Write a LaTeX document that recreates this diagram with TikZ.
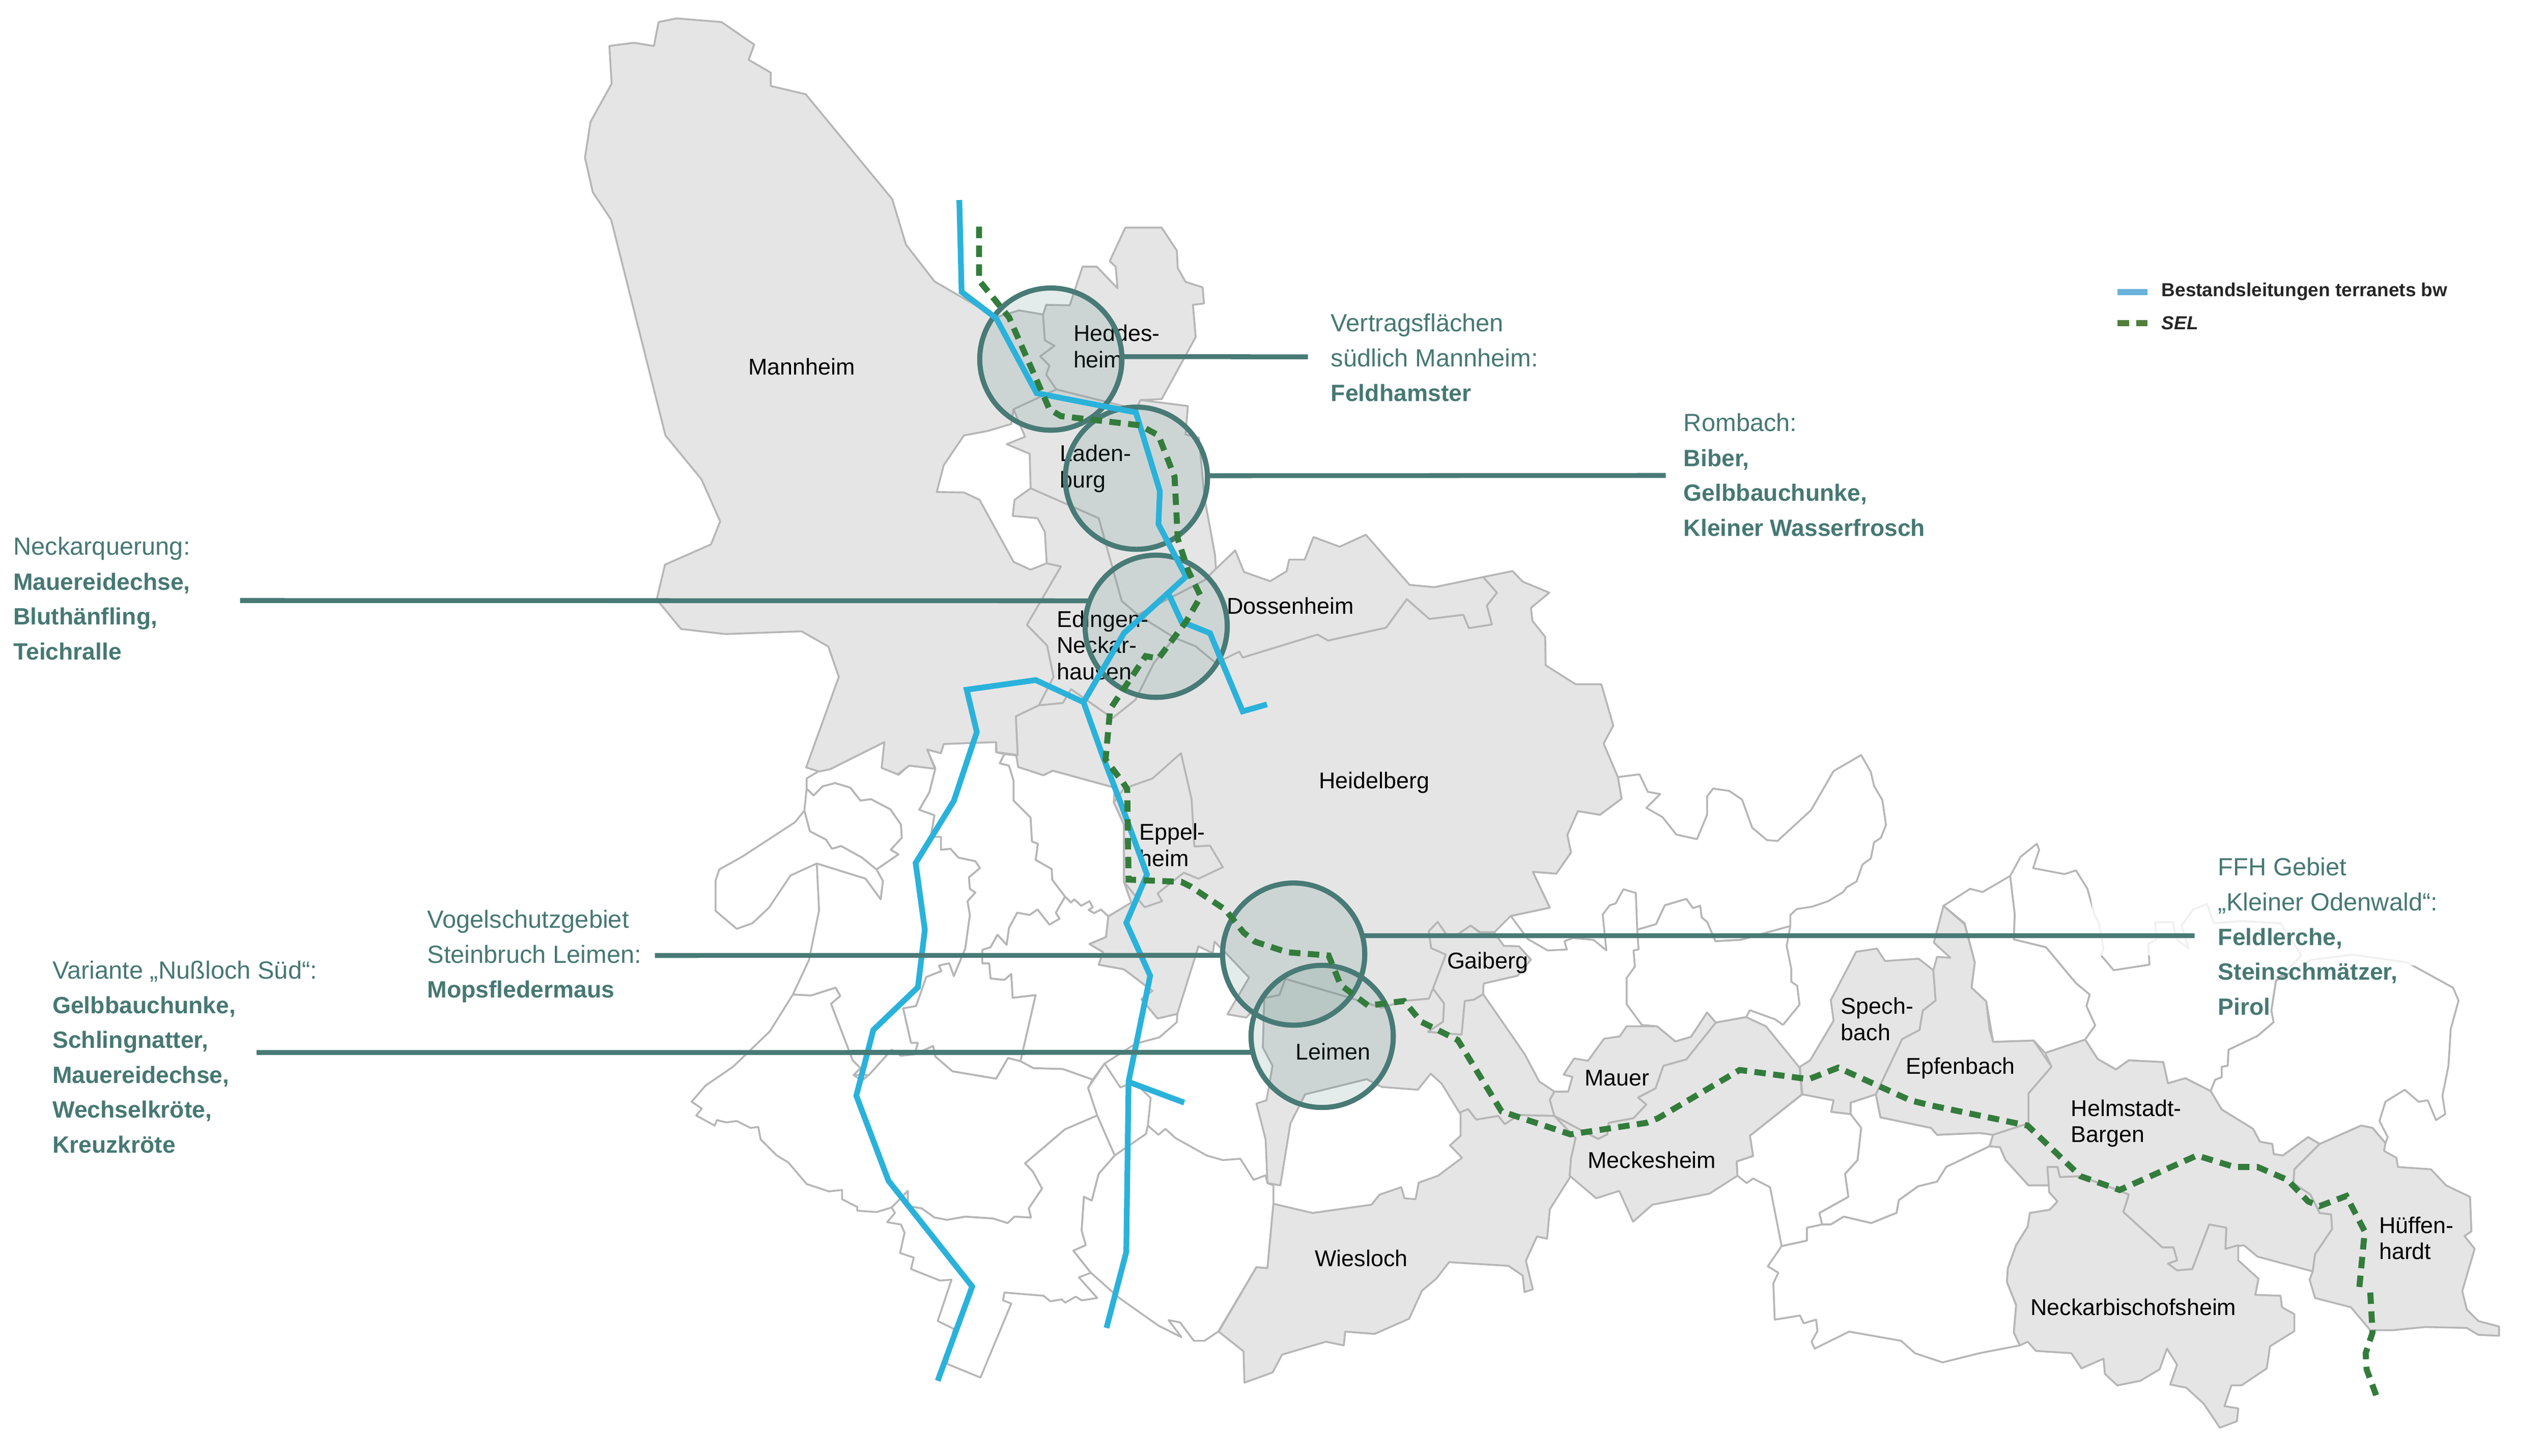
\documentclass[tikz,border=0pt]{standalone}
\usepackage{fontspec}
\setmainfont{Liberation Sans}
\definecolor{mapgray}{HTML}{E5E5E5}
\definecolor{mapline}{HTML}{B6B6B6}
\definecolor{ringteal}{HTML}{487A76}
\definecolor{tealtext}{HTML}{467873}
\definecolor{linieblue}{HTML}{2AB2DB}
\definecolor{seldark}{HTML}{337C3C}
\definecolor{legblue}{HTML}{6AB2D9}
\definecolor{leggreen}{HTML}{527E3C}
\newcommand{\art}[1]{{\fontsize{8.25}{12.2}\selectfont\bfseries #1}}
\tikzset{
  frei/.style={draw=mapline,line width=0.65pt,fill=white,line join=round},
  gemeinde/.style={draw=mapline,line width=0.65pt,fill=mapgray,line join=round},
  town/.style={inner sep=0pt,align=left,font=\fontsize{8}{9.2}\selectfont},
  block/.style={anchor=north west,inner sep=0pt,align=left,text=tealtext,font=\fontsize{8.7}{12.2}\selectfont},
  ring/.style={circle,draw=ringteal,line width=1.8pt,fill=ringteal,fill opacity=.15,draw opacity=1,
    minimum size=1.75cm,inner sep=0pt,outer sep=0pt},
  leader/.style={draw=ringteal,line width=1.7pt},
  bestand/.style={draw=linieblue,line width=2pt},
  sel/.style={draw=seldark,line width=2.1pt,dash pattern=on 4pt off 2.6pt}
}
\begin{document}
\begin{tikzpicture}[x=0.0056667cm,y=-0.0056667cm]
  \useasboundingbox (0,0) rectangle (5534,3166);
  % white municipalities, west
  \begin{scope}[shift={(1384,1598)}]
    \draw[frei] (370,117) -- (385,132) -- (405,112) -- (432,105) -- (465,115) -- (487,143) -- (510,140) -- (552,162) -- (575,195) -- (577,224) -- (553,250) -- (570,260) -- (522,293) -- (490,267) -- (445,242) -- (425,248) -- (412,228) -- (377,210) -- (365,165) -- cycle;
    \draw[frei] (365,165) -- (345,190) -- (230,265) -- (180,293) -- (172,317) -- (172,383) -- (218,422) -- (252,410) -- (288,376) -- (335,306) -- (392,280) -- (498,313) -- (531,358) -- (536,318) -- (522,293) -- (490,267) -- (445,242) -- (425,248) -- (412,228) -- (377,210) -- cycle;
    \draw[frei] (370,95) -- (395,80) -- (420,73) -- (540,15) -- (535,72) -- (570,87) -- (592,67) -- (650,73) -- (637,125) -- (615,163) -- (648,175) -- (640,222) -- (662,222) -- (662,250) -- (683,248) -- (700,267) -- (737,275) -- (747,290) -- (723,310) -- (725,335) -- (737,343) -- (720,362) -- (725,392) -- (715,465) -- (690,525) -- (680,497) -- (658,502) -- (663,514) -- (630,527) -- (608,590) -- (580,595) -- (597,670) -- (612,670) -- (605,695) -- (575,698) -- (555,685) -- (510,735) -- (505,740) -- (472,740) -- (487,725) -- (470,708) -- (423,585) -- (443,568) -- (433,550) -- (380,567) -- (340,565) -- (375,490) -- (397,382) -- (392,280) -- (498,313) -- (531,358) -- (536,318) -- (522,293) -- (570,260) -- (553,250) -- (577,224) -- (575,195) -- (552,162) -- (510,140) -- (487,143) -- (465,115) -- (432,105) -- (405,112) -- (385,132) -- (370,117) -- cycle;
    \draw[frei] (650,73) -- (632,32) -- (662,40) -- (668,20) -- (782,15) -- (782,38) -- (800,42) -- (790,62) -- (810,67) -- (820,100) -- (820,143) -- (857,180) -- (860,232) -- (873,237) -- (868,272) -- (903,292) -- (904,315) -- (932,352) -- (912,387) -- (920,400) -- (898,413) -- (872,380) -- (855,392) -- (828,387) -- (810,420) -- (805,457) -- (785,435) -- (770,462) -- (752,468) -- (752,497) -- (767,497) -- (770,530) -- (800,533) -- (815,520) -- (818,572) -- (868,566) -- (835,710) -- (808,703) -- (782,748) -- (687,732) -- (650,700) -- (645,677) -- (605,695) -- (612,670) -- (597,670) -- (580,595) -- (608,590) -- (630,527) -- (663,514) -- (658,502) -- (680,497) -- (690,525) -- (715,465) -- (725,392) -- (720,362) -- (737,343) -- (725,335) -- (723,310) -- (747,290) -- (737,275) -- (700,267) -- (683,248) -- (662,250) -- (662,222) -- (640,222) -- (648,175) -- (615,163) -- (637,125) -- cycle;
    \draw[frei] (800,42) -- (826,45) -- (830,70) -- (885,88) -- (905,78) -- (1040,115) -- (1038,147) -- (1060,195) -- (1060,320) -- (1076,365) -- (1026,395) -- (1010,380) -- (995,388) -- (983,381) -- (992,375) -- (985,362) -- (967,372) -- (952,358) -- (945,365) -- (932,352) -- (904,315) -- (903,292) -- (868,272) -- (873,237) -- (860,232) -- (857,180) -- (820,143) -- (820,100) -- (810,67) -- (790,62) -- cycle;
    \draw[frei] (912,387) -- (920,400) -- (898,413) -- (872,380) -- (855,392) -- (828,387) -- (810,420) -- (805,457) -- (785,435) -- (770,462) -- (752,468) -- (752,497) -- (767,497) -- (770,530) -- (800,533) -- (815,520) -- (818,572) -- (868,566) -- (835,710) -- (863,725) -- (927,727) -- (992,750) -- (1018,715) -- (1085,672) -- (1137,658) -- (1175,625) -- (1176,607) -- (1133,617) -- (1098,575) -- (1122,557) -- (1060,510) -- (1005,500) -- (1015,473) -- (985,455) -- (1021,440) -- (1026,395) -- (1010,380) -- (995,388) -- (983,381) -- (992,375) -- (985,362) -- (967,372) -- (952,358) -- (945,365) -- (932,352) -- cycle;
    \draw[frei] (340,565) -- (380,567) -- (433,550) -- (443,568) -- (423,585) -- (470,708) -- (487,725) -- (472,740) -- (490,752) -- (505,740) -- (510,735) -- (555,685) -- (575,698) -- (605,695) -- (645,677) -- (650,700) -- (687,732) -- (782,748) -- (808,703) -- (835,710) -- (863,725) -- (927,727) -- (992,750) -- (982,768) -- (1002,828) -- (932,858) -- (845,932) -- (862,950) -- (882,987) -- (853,1030) -- (858,1050) -- (822,1048) -- (807,1062) -- (775,1052) -- (715,1048) -- (675,1055) -- (648,1050) -- (620,1030) -- (590,1025) -- (590,992) -- (555,1028) -- (522,1038) -- (480,1035) -- (480,1027) -- (447,1010) -- (447,990) -- (418,993) -- (370,977) -- (330,930) -- (305,915) -- (270,880) -- (265,853) -- (248,855) -- (218,840) -- (195,843) -- (175,838) -- (170,850) -- (130,828) -- (142,813) -- (120,798) -- (150,763) -- (210,722) -- (290,645) -- cycle;
    \draw[frei] (555,1028) -- (562,1040) -- (545,1060) -- (575,1065) -- (583,1083) -- (573,1127) -- (603,1137) -- (597,1162) -- (660,1187) -- (685,1185) -- (655,1275) -- (690,1292) -- (675,1368) -- (748,1398) -- (815,1237) -- (797,1230) -- (800,1213) -- (885,1220) -- (900,1232) -- (925,1228) -- (932,1235) -- (955,1222) -- (968,1230) -- (1002,1225) -- (962,1180) -- (988,1170) -- (950,1122) -- (977,1110) -- (968,1078) -- (973,1005) -- (990,1013) -- (1005,955) -- (1040,915) -- (1002,828) -- (932,858) -- (845,932) -- (862,950) -- (882,987) -- (853,1030) -- (858,1050) -- (822,1048) -- (807,1062) -- (775,1052) -- (715,1048) -- (675,1055) -- (648,1050) -- (620,1030) -- (590,1025) -- (590,992) -- cycle;
    \draw[frei] (982,768) -- (1018,715) -- (1052,767) -- (1082,755) -- (1118,790) -- (1112,850) -- (1108,868) -- (1040,915) -- (1002,828) -- cycle;
    \draw[frei] (1040,915) -- (1108,868) -- (1112,850) -- (1135,870) -- (1150,857) -- (1172,877) -- (1240,915) -- (1275,925) -- (1313,922) -- (1342,968) -- (1368,958) -- (1372,975) -- (1385,980) -- (1385,1020) -- (1372,1160) -- (1348,1158) -- (1265,1298) -- (1235,1318) -- (1212,1318) -- (1182,1278) -- (1157,1273) -- (1185,1310) -- (1135,1285) -- (1050,1225) -- (988,1170) -- (950,1122) -- (977,1110) -- (968,1078) -- (973,1005) -- (990,1013) -- (1005,955) -- cycle;
  \end{scope}
  % white municipalities, east
  \begin{scope}[shift={(2675,922)}]
    \draw[frei] (610,1070) -- (695,1052) -- (658,974) -- (709,978) -- (741,932) -- (733,894) -- (756,842) -- (804,850) -- (851,815) -- (843,768) -- (890,762) -- (908,800) -- (935,805) -- (905,835) -- (940,855) -- (970,893) -- (1015,903) -- (1037,850) -- (1037,810) -- (1050,793) -- (1085,798) -- (1113,817) -- (1135,878) -- (1167,905) -- (1190,907) -- (1263,840) -- (1312,755) -- (1372,720) -- (1393,757) -- (1400,787) -- (1418,818) -- (1426,872) -- (1415,900) -- (1400,910) -- (1393,945) -- (1375,958) -- (1362,995) -- (1340,1008) -- (1333,1018) -- (1300,1038) -- (1265,1050) -- (1232,1055) -- (1218,1068) -- (1218,1092) -- (1110,1122) -- (1055,1125) -- (1037,1083) -- (1025,1073) -- (1022,1048) -- (1006,1053) -- (992,1033) -- (945,1047) -- (926,1088) -- (885,1100) -- (882,1020) -- (855,1012) -- (838,1043) -- (825,1047) -- (810,1067) -- (818,1145) -- (790,1122) -- (745,1118) -- (727,1125) -- (732,1143) -- (690,1145) -- (647,1120) -- cycle;
    \draw[frei] (885,1100) -- (926,1088) -- (945,1047) -- (992,1033) -- (1006,1053) -- (1022,1048) -- (1025,1073) -- (1037,1083) -- (1055,1125) -- (1110,1122) -- (1218,1092) -- (1210,1135) -- (1220,1185) -- (1220,1213) -- (1233,1222) -- (1238,1263) -- (1202,1307) -- (1185,1295) -- (1130,1275) -- (1122,1290) -- (1056,1302) -- (1037,1280) -- (1002,1333) -- (968,1343) -- (928,1310) -- (895,1307) -- (862,1262) -- (862,1205) -- (880,1180) -- (877,1145) -- (888,1143) -- cycle;
  \end{scope}
  \begin{scope}[shift={(3874,1598)}]
    \draw[frei] (497,307) -- (507,390) -- (505,445) -- (575,462) -- (640,540) -- (670,565) -- (663,590) -- (682,632) -- (660,663) -- (573,692) -- (548,665) -- (460,668) -- (445,580) -- (413,550) -- (420,495) -- (398,410) -- (352,372) -- (410,335) -- (437,342) -- cycle;
    \draw[frei] (497,307) -- (520,265) -- (555,237) -- (560,250) -- (547,290) -- (615,303) -- (640,295) -- (665,335) -- (680,390) -- (690,410) -- (700,465) -- (695,480) -- (722,512) -- (800,500) -- (797,455) -- (815,445) -- (812,408) -- (850,407) -- (860,445) -- (885,465) -- (870,415) -- (895,380) -- (925,368) -- (940,410) -- (1000,405) -- (1085,410) -- (1130,480) -- (1075,535) -- (1065,600) -- (1070,625) -- (1035,655) -- (972,685) -- (970,720) -- (957,722) -- (957,745) -- (943,750) -- (933,775) -- (878,747) -- (840,758) -- (830,712) -- (755,708) -- (727,728) -- (687,705) -- (660,663) -- (682,632) -- (663,590) -- (670,565) -- (640,540) -- (575,462) -- (505,445) -- (507,390) -- cycle;
    \draw[frei] (1075,535) -- (1150,490) -- (1240,478) -- (1360,495) -- (1460,550) -- (1472,578) -- (1455,640) -- (1450,720) -- (1437,785) -- (1443,825) -- (1423,838) -- (1405,795) -- (1385,798) -- (1355,772) -- (1313,798) -- (1300,840) -- (1318,875) -- (1313,888) -- (1285,855) -- (1260,850) -- (1170,890) -- (1145,875) -- (1090,915) -- (1070,912) -- (1067,890) -- (1040,885) -- (1025,857) -- (957,815) -- (933,775) -- (943,750) -- (957,745) -- (957,722) -- (970,720) -- (972,685) -- (1035,655) -- (1070,625) -- (1065,600) -- cycle;
    % veil behind the FFH text
    \fill[white,fill opacity=.8] (670,280) -- (1400,280) -- (1400,500) -- (1060,520) -- (800,480) -- (680,480) -- cycle;
    \draw[frei] (150,825) -- (150,800) -- (205,782) -- (215,832) -- (325,855) -- (338,870) -- (430,866) -- (460,870) -- (452,895) -- (358,940) -- (338,972) -- (297,982) -- (255,1012) -- (250,1040) -- (237,1045) -- (195,1062) -- (135,1048) -- (107,1065) -- (88,1065) -- (82,1040) -- (145,1005) -- (138,955) -- (165,925) -- (173,855) -- cycle;
    \draw[frei] (0,1112) -- (55,1100) -- (55,1072) -- (88,1065) -- (107,1065) -- (135,1048) -- (195,1062) -- (237,1045) -- (250,1040) -- (255,1012) -- (297,982) -- (338,972) -- (358,940) -- (452,895) -- (475,897) -- (487,925) -- (537,980) -- (582,980) -- (582,995) -- (600,1015) -- (583,1033) -- (540,1040) -- (535,1070) -- (510,1110) -- (492,1160) -- (490,1190) -- (510,1240) -- (505,1300) -- (518,1328) -- (430,1345) -- (350,1365) -- (290,1345) -- (260,1318) -- (147,1298) -- (72,1335) -- (65,1320) -- (78,1297) -- (75,1272) -- (48,1280) -- (40,1263) -- (-15,1272) -- (-18,1193) -- (-7,1170) -- (-30,1156) -- cycle;
    \draw[frei] (-69,872) -- (-62,916) -- (-98,928) -- (-96,959) -- (-76,975) -- (-62,965) -- (-25,984) -- (0,1112) -- (55,1100) -- (55,1072) -- (88,1065) -- (82,1040) -- (145,1005) -- (138,955) -- (165,925) -- (173,855) -- (150,825) -- (108,820) -- (113,795) -- (45,782) -- cycle;
  \end{scope}
  % grey municipalities
  \draw[gemeinde] (1325,100) -- (1378,93) -- (1422,100) -- (1432,48) -- (1471,40) -- (1569,48) -- (1640,97) -- (1628,130) -- (1676,158) -- (1676,187) -- (1752,205) -- (1940,433) -- (1970,532) -- (2032,612) -- (2166,690) -- (2216,675) -- (2268,684) -- (2272,740) -- (2293,752) -- (2262,775) -- (2282,795) -- (2275,815) -- (2297,847) -- (2204,890) -- (2199,922) -- (2149,937) -- (2096,947) -- (2052,1012) -- (2037,1070) -- (2096,1071) -- (2130,1087) -- (2204,1222) -- (2241,1239) -- (2276,1225) -- (2307,1232) -- (2233,1359) -- (2277,1404) -- (2291,1472) -- (2259,1534) -- (2209,1558) -- (2213,1642) -- (2167,1636) -- (2166,1614) -- (2052,1618) -- (2046,1638) -- (2016,1630) -- (2033,1672) -- (1977,1665) -- (1952,1684) -- (1917,1670) -- (1923,1614) -- (1805,1673) -- (1781,1678) -- (1753,1669) -- (1824,1472) -- (1801,1406) -- (1743,1373) -- (1577,1379) -- (1481,1368) -- (1428,1304) -- (1446,1228) -- (1546,1184) -- (1566,1134) -- (1525,1042) -- (1447,947) -- (1329,478) -- (1289,418) -- (1272,343) -- (1284,265) -- (1330,182) -- cycle;
  \draw[gemeinde] (2268,684) -- (2275,663) -- (2326,664) -- (2354,580) -- (2385,580) -- (2430,627) -- (2426,580) -- (2413,568) -- (2447,495) -- (2526,495) -- (2559,545) -- (2561,583) -- (2578,613) -- (2615,625) -- (2618,660) -- (2594,663) -- (2600,733) -- (2526,868) -- (2480,870) -- (2470,890) -- (2297,847) -- (2275,815) -- (2282,795) -- (2262,775) -- (2293,752) -- (2272,740) -- cycle;
  \draw[gemeinde] (2241,1062) -- (2239,987) -- (2189,966) -- (2229,950) -- (2217,922) -- (2204,890) -- (2297,847) -- (2470,890) -- (2480,870) -- (2583,883) -- (2578,945) -- (2607,952) -- (2619,1082) -- (2642,1207) -- (2644,1237) -- (2619,1262) -- (2474,1337) -- (2439,1307) -- (2389,1127) -- cycle;
  \begin{scope}[shift={(1199,922)}]
    \draw[gemeinde] (1042,140) -- (1190,205) -- (1240,385) -- (1275,415) -- (1355,465) -- (1310,520) -- (1270,600) -- (1220,640) -- (1130,577) -- (1112,607) -- (1060,612) -- (1092,550) -- (1078,482) -- (1034,437) -- (1108,310) -- (1077,303) -- (1073,235) -- (1057,205) -- (1003,200) -- (1007,165) -- cycle;
  \end{scope}
  \draw[gemeinde] (2209,1558) -- (2259,1534) -- (2311,1529) -- (2329,1499) -- (2419,1562) -- (2469,1522) -- (2509,1442) -- (2554,1387) -- (2599,1405) -- (2644,1442) -- (2695,1417) -- (2702,1430) -- (2865,1380) -- (2888,1393) -- (3014,1365) -- (3059,1303) -- (3108,1346) -- (3182,1337) -- (3194,1366) -- (3244,1358) -- (3233,1317) -- (3255,1289) -- (3225,1255) -- (3289,1242) -- (3311,1265) -- (3369,1289) -- (3329,1322) -- (3332,1350) -- (3360,1385) -- (3361,1447) -- (3426,1488) -- (3482,1488) -- (3508,1578) -- (3487,1617) -- (3518,1690) -- (3526,1737) -- (3479,1772) -- (3431,1764) -- (3408,1816) -- (3416,1854) -- (3384,1900) -- (3333,1896) -- (3370,1974) -- (3285,1992) -- (3250,2027) -- (3218,2027) -- (3198,2013) -- (3170,2032) -- (3145,2032) -- (3126,2005) -- (3107,2025) -- (3112,2062) -- (3144,2076) -- (3116,2150) -- (3107,2172) -- (3050,2177) -- (3005,2192) -- (2925,2167) -- (2795,2129) -- (2782,2164) -- (2749,2171) -- (2710,2213) -- (2669,2206) -- (2716,2126) -- (2666,2073) -- (2641,2048) -- (2637,2073) -- (2606,2058) -- (2560,2205) -- (2517,2215) -- (2482,2173) -- (2506,2155) -- (2444,2108) -- (2389,2098) -- (2399,2071) -- (2369,2053) -- (2405,2038) -- (2410,1993) -- (2460,1963) -- (2444,1918) -- (2444,1793) -- (2422,1745) -- (2424,1713) -- (2289,1676) -- (2269,1686) -- (2214,1668) -- (2210,1643) -- (2213,1642) -- cycle;
  \draw[gemeinde] (2644,1237) -- (2686,1197) -- (2705,1244) -- (2762,1264) -- (2798,1242) -- (2803,1217) -- (2837,1217) -- (2856,1168) -- (2913,1189) -- (2970,1163) -- (3065,1272) -- (3119,1277) -- (3225,1255) -- (3255,1289) -- (3233,1317) -- (3244,1358) -- (3194,1366) -- (3182,1337) -- (3108,1346) -- (3059,1303) -- (3014,1365) -- (2888,1393) -- (2865,1380) -- (2702,1430) -- (2695,1417) -- (2644,1442) -- (2599,1405) -- (2554,1387) -- (2474,1337) -- (2619,1262) -- cycle;
  \begin{scope}[shift={(1384,1598)}]
    \draw[gemeinde] (1060,117) -- (1122,95) -- (1184,40) -- (1207,140) -- (1213,243) -- (1247,241) -- (1275,288) -- (1222,313) -- (1190,300) -- (1133,345) -- (1143,362) -- (1105,375) -- (1060,320) -- (1060,195) -- (1038,147) -- cycle;
  \end{scope}
  \draw[gemeinde] (2795,2129) -- (2925,2167) -- (3005,2192) -- (3050,2177) -- (3107,2172) -- (3116,2150) -- (3140,2182) -- (3138,2222) -- (3105,2244) -- (3178,2250) -- (3185,2177) -- (3205,2174) -- (3225,2162) -- (3315,2292) -- (3347,2352) -- (3380,2374) -- (3370,2392) -- (3380,2427) -- (3303,2425) -- (3272,2445) -- (3258,2427) -- (3210,2435) -- (3192,2412) -- (3175,2422) -- (3135,2357) -- (3111,2335) -- (3083,2370) -- (3005,2364) -- (2972,2347) -- (2838,2380) -- (2806,2443) -- (2784,2578) -- (2756,2573) -- (2752,2478) -- (2732,2400) -- (2754,2393) -- (2767,2318) -- (2746,2278) -- (2749,2171) -- (2782,2164) -- cycle;
  \begin{scope}[shift={(2675,922)}]
    \draw[gemeinde] (441,1228) -- (465,1260) -- (463,1300) -- (430,1322) -- (503,1328) -- (510,1255) -- (530,1252) -- (550,1240) -- (551,1217) -- (625,1200) -- (654,1165) -- (628,1136) -- (595,1135) -- (575,1107) -- (543,1107) -- (523,1091) -- (495,1110) -- (470,1110) -- (451,1083) -- (432,1103) -- (437,1140) -- (469,1154) -- cycle;
    \draw[gemeinde] (705,1505) -- (695,1470) -- (705,1452) -- (735,1452) -- (744,1420) -- (725,1415) -- (748,1380) -- (778,1385) -- (813,1337) -- (847,1332) -- (862,1310) -- (928,1310) -- (968,1343) -- (1002,1333) -- (1037,1280) -- (1056,1302) -- (992,1382) -- (942,1396) -- (925,1445) -- (887,1465) -- (905,1480) -- (877,1510) -- (823,1520) -- (820,1545) -- (800,1555) -- (752,1530) -- cycle;
  \end{scope}
  \draw[gemeinde] (2769,2618) -- (2854,2638) -- (2982,2620) -- (3000,2598) -- (3047,2582) -- (3054,2606) -- (3078,2608) -- (3085,2572) -- (3127,2557) -- (3179,2518) -- (3153,2491) -- (3176,2470) -- (3176,2419) -- (3192,2412) -- (3210,2435) -- (3258,2427) -- (3272,2445) -- (3303,2425) -- (3380,2427) -- (3426,2475) -- (3416,2557) -- (3370,2630) -- (3364,2694) -- (3342,2689) -- (3318,2742) -- (3333,2804) -- (3315,2810) -- (3311,2774) -- (3280,2753) -- (3151,2745) -- (3123,2781) -- (3092,2807) -- (3064,2868) -- (2989,2901) -- (2925,2896) -- (2922,2926) -- (2883,2918) -- (2788,2946) -- (2767,2985) -- (2706,3007) -- (2704,2939) -- (2650,2896) -- (2732,2756) -- (2756,2758) -- cycle;
  \draw[gemeinde] (3380,2427) -- (3427,2452) -- (3475,2477) -- (3495,2467) -- (3498,2442) -- (3552,2432) -- (3580,2402) -- (3562,2387) -- (3600,2367) -- (3617,2318) -- (3667,2304) -- (3731,2224) -- (3797,2212) -- (3840,2232) -- (3913,2322) -- (3918,2380) -- (3805,2470) -- (3812,2514) -- (3776,2526) -- (3778,2557) -- (3717,2596) -- (3593,2620) -- (3551,2657) -- (3521,2590) -- (3471,2606) -- (3413,2557) -- (3416,2520) -- (3426,2475) -- cycle;
  \begin{scope}[shift={(3874,1598)}]
    \draw[gemeinde] (40,722) -- (62,708) -- (113,622) -- (107,577) -- (162,472) -- (207,465) -- (225,492) -- (298,487) -- (330,512) -- (335,578) -- (307,600) -- (300,642) -- (262,662) -- (205,782) -- (150,800) -- (150,825) -- (108,820) -- (113,795) -- (45,782) -- cycle;
    \draw[gemeinde] (205,782) -- (262,662) -- (300,642) -- (307,600) -- (335,578) -- (330,512) -- (338,483) -- (367,485) -- (331,452) -- (352,372) -- (398,412) -- (420,495) -- (413,550) -- (445,580) -- (452,640) -- (460,668) -- (548,665) -- (587,722) -- (537,780) -- (537,845) -- (460,870) -- (430,866) -- (338,870) -- (325,855) -- (215,832) -- cycle;
    \draw[gemeinde] (537,845) -- (460,870) -- (452,895) -- (475,897) -- (487,925) -- (537,980) -- (582,980) -- (578,940) -- (600,940) -- (605,962) -- (650,960) -- (730,990) -- (755,1000) -- (743,1038) -- (828,1115) -- (852,1115) -- (860,1143) -- (840,1150) -- (860,1165) -- (893,1162) -- (930,1065) -- (967,1072) -- (965,1118) -- (1005,1110) -- (1035,1135) -- (1155,1167) -- (1160,1130) -- (1197,1075) -- (1195,1043) -- (1170,1040) -- (1150,1000) -- (1113,975) -- (1115,945) -- (1170,890) -- (1145,875) -- (1090,915) -- (1070,912) -- (1067,890) -- (1040,885) -- (1025,857) -- (957,815) -- (933,775) -- (878,747) -- (840,758) -- (830,712) -- (755,708) -- (727,728) -- (687,705) -- (660,663) -- (573,692) -- (587,722) -- (537,780) -- cycle;
    \draw[gemeinde] (578,940) -- (582,995) -- (600,1015) -- (583,1033) -- (540,1040) -- (535,1070) -- (510,1110) -- (492,1160) -- (490,1190) -- (510,1240) -- (505,1300) -- (518,1328) -- (535,1320) -- (553,1340) -- (630,1345) -- (652,1378) -- (700,1357) -- (703,1390) -- (730,1415) -- (780,1405) -- (822,1380) -- (838,1335) -- (860,1370) -- (845,1413) -- (880,1420) -- (918,1455) -- (953,1507) -- (990,1493) -- (993,1465) -- (963,1460) -- (978,1415) -- (1000,1415) -- (1055,1378) -- (1062,1330) -- (1115,1297) -- (1115,1260) -- (1088,1245) -- (1085,1220) -- (1030,1218) -- (1037,1183) -- (993,1143) -- (993,1110) -- (965,1118) -- (967,1072) -- (930,1065) -- (893,1162) -- (860,1165) -- (840,1150) -- (860,1143) -- (852,1115) -- (828,1115) -- (743,1038) -- (755,1000) -- (730,990) -- (650,960) -- (605,962) -- (600,940) -- cycle;
    \draw[gemeinde] (1170,890) -- (1260,850) -- (1285,855) -- (1313,888) -- (1310,905) -- (1337,920) -- (1340,940) -- (1412,945) -- (1445,980) -- (1497,1005) -- (1500,1080) -- (1485,1090) -- (1507,1118) -- (1480,1210) -- (1490,1250) -- (1515,1275) -- (1560,1287) -- (1560,1307) -- (1515,1305) -- (1490,1290) -- (1400,1288) -- (1328,1295) -- (1280,1295) -- (1238,1245) -- (1160,1225) -- (1148,1185) -- (1155,1167) -- (1160,1130) -- (1197,1075) -- (1195,1043) -- (1170,1040) -- (1150,1000) -- (1113,975) -- (1115,945) -- cycle;
  \end{scope}
  % town names
  \node[town] (mannheim) at (1743,797) {Mannheim};
  \node[town,anchor=west] (heddesheim) at (2333,753) {Heddes-\\heim};
  \node[town,anchor=west] (ladenburg) at (2304,1019) {Laden-\\burg};
  \node[town] (dossenheim) at (2806,1318) {Dossenheim};
  \node[town,anchor=west] (edingen) at (2297,1403) {Edingen-\\Neckar-\\hausen};
  \node[town] (heidelberg) at (2988,1702) {Heidelberg};
  \node[town,anchor=west] (eppelheim) at (2476,1838) {Eppel-\\heim};
  \node[town] (gaiberg) at (3235,2094) {Gaiberg};
  \node[town] (leimen) at (2899,2287) {Leimen};
  \node[town] (wiesloch) at (2960,2736) {Wiesloch};
  \node[town] (mauer) at (3516,2344) {Mauer};
  \node[town] (meckesheim) at (3592,2523) {Meckesheim};
  \node[town,anchor=west] (spechbach) at (4002,2216) {Spech-\\bach};
  \node[town] (epfenbach) at (4263,2323) {Epfenbach};
  \node[town,anchor=west] (helmstadt) at (4502,2443) {Helmstadt-\\Bargen};
  \node[town] (neckarbisch) at (4639,2843) {Neckarbischofsheim};
  \node[town,anchor=west] (hueffenhardt) at (5172,2693) {Hüffen-\\hardt};
  % rings
  \node[ring] (rHeddesheim) at (2285,781) {};
  \node[ring] (rLadenburg) at (2471,1040) {};
  \node[ring] (rEdingen) at (2514,1362) {};
  \node[ring] (rSteinbruch) at (2813,2075) {};
  \node[ring] (rLeimen) at (2875,2254) {};
  % lines
  \draw[bestand] (2086,435) -- (2091,635) -- (2166,692) -- (2254,855) -- (2470,897) -- (2522,1068) -- (2519,1140) -- (2579,1254) -- (2444,1377) -- (2356,1527) -- (2397,1642) -- (2439,1752) -- (2494,1902) -- (2449,2007) -- (2501,2122) -- (2454,2352) -- (2449,2723) -- (2406,2888);
  \draw[bestand] (2539,1287) -- (2569,1352) -- (2631,1377) -- (2702,1547) -- (2755,1532);
  \draw[bestand] (2356,1527) -- (2252,1479) -- (2102,1500) -- (2124,1592) -- (2074,1742) -- (1991,1877) -- (2011,2022) -- (1996,2147) -- (1899,2240) -- (1862,2383) -- (1932,2568) -- (2114,2798) -- (2039,3003);
  \draw[bestand] (2457,2354) -- (2575,2398);
  \draw[sel] (2129,493) -- (2129,610) -- (2194,690) -- (2282,890) -- (2307,905) -- (2479,925) -- (2519,947) -- (2554,1037) -- (2561,1172) -- (2584,1242) -- (2611,1297) -- (2579,1352) -- (2519,1432) -- (2491,1427) -- (2461,1472) -- (2414,1542) -- (2404,1652) -- (2442,1702) -- (2451,1716) -- (2454,1913) -- (2569,1918) -- (2589,1928) -- (2664,1978) -- (2704,2028) -- (2729,2048) -- (2799,2071) -- (2889,2078) -- (2915,2142) -- (2975,2187) -- (3053,2177) -- (3090,2222) -- (3170,2262) -- (3265,2417) -- (3415,2467) -- (3580,2442) -- (3605,2432) -- (3783,2327) -- (3933,2347) -- (3997,2322) -- (4154,2393) -- (4194,2403) -- (4409,2448) -- (4524,2558) -- (4609,2588) -- (4777,2513) -- (4859,2538) -- (4909,2538) -- (4974,2566) -- (5019,2613) -- (5044,2623) -- (5102,2601) -- (5142,2678) -- (5129,2813);
  \draw[sel] (5154,2811) -- (5159,2898) -- (5144,2943) -- (5146,2978) -- (5170,3043);
  % leaders
  \coordinate (cHeddesheim) at (2844,776);
  \coordinate (cLadenburg) at (3622,1034);
  \coordinate (cNeckar) at (522,1306);
  \coordinate (cFFH) at (4772,2035);
  \coordinate (cVogel) at (1424,2078);
  \coordinate (cVariante) at (558,2289);
  \draw[leader] (rHeddesheim.2) -- (cHeddesheim);
  \draw[leader] (rLadenburg.2) -- (cLadenburg);
  \draw[leader] (rEdingen.159) -- (cNeckar);
  \draw[leader] (rSteinbruch.15) -- (cFFH);
  \draw[leader] (rSteinbruch.181) -- (cVogel);
  \draw[leader] (rLeimen.193) -- (cVariante);
  % text blocks
  \node[block] (tVertrag) at (2893,681) {Vertragsflächen\\südlich Mannheim:\\\art{Feldhamster}};
  \node[block] (tRombach) at (3660,898) {Rombach:\\\art{Biber,}\\\art{Gelbbauchunke,}\\\art{Kleiner Wasserfrosch}};
  \node[block] (tNeckar) at (28,1167) {Neckarquerung:\\\art{Mauereidechse,}\\\art{Bluthänfling,}\\\art{Teichralle}};
  \node[block] (tVogel) at (928,1978) {Vogelschutzgebiet\\Steinbruch Leimen:\\\art{Mopsfledermaus}};
  \node[block] (tVariante) at (113,2088) {Variante „Nußloch Süd“:\\\art{Gelbbauchunke,}\\\art{Schlingnatter,}\\\art{Mauereidechse,}\\\art{Wechselkröte,}\\\art{Kreuzkröte}};
  \node[block] (tFFH) at (4822,1864) {FFH Gebiet\\„Kleiner Odenwald“:\\\art{Feldlerche,}\\\art{Steinschmätzer,}\\\art{Pirol}};
  % legend
  \coordinate (lgBlueA) at (4604,635);
  \coordinate (lgBlueB) at (4670,635);
  \coordinate (lgSelA) at (4604,703);
  \coordinate (lgSelB) at (4670,703);
  \draw[draw=legblue,line width=2.1pt] (lgBlueA) -- (lgBlueB);
  \draw[draw=leggreen,line width=2.1pt,dash pattern=on 4.1pt off 2.5pt] (lgSelA) -- (lgSelB);
  \node[anchor=west,inner sep=0pt,text=black!85,font=\fontsize{6.6}{8}\selectfont\bfseries] (lgBlue) at (4699,634) {Bestandsleitungen terranets bw};
  \node[anchor=west,inner sep=0pt,text=black!85,font=\fontsize{6.6}{8}\selectfont\bfseries\itshape] (lgSel) at (4699,703) {SEL};
\end{tikzpicture}
\end{document}
